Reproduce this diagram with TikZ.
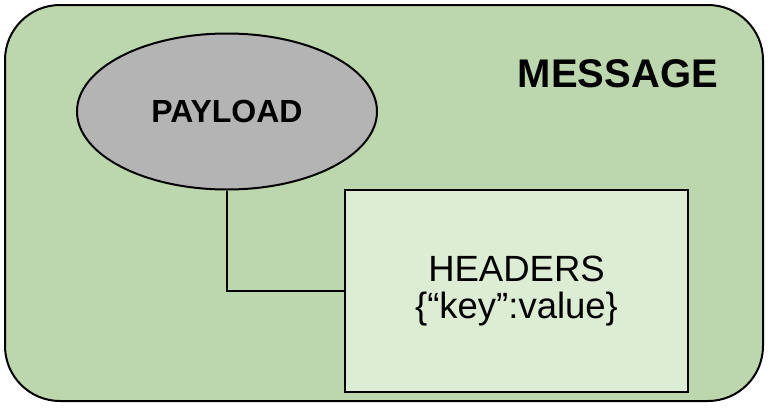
\documentclass[tikz,border=0pt]{standalone}
\usepackage{fontspec}
\setmainfont{Liberation Sans}
\usetikzlibrary{shapes.geometric}
\definecolor{msggreen}{HTML}{BCD6AD}
\definecolor{hdrgreen}{HTML}{DCEDD4}
\definecolor{plgray}{HTML}{B4B4B4}
\tikzset{
  msgbox/.style={shape=rectangle,draw=black,fill=msggreen,rounded corners=55pt,line width=2pt,minimum width=758pt,minimum height=396pt},
  plnode/.style={shape=ellipse,draw=black,fill=plgray,line width=2pt,inner sep=0pt,minimum width=300pt,minimum height=156pt,font=\fontsize{32}{38}\selectfont\bfseries},
  hdrbox/.style={shape=rectangle,draw=black,fill=hdrgreen,line width=2pt,minimum width=343pt,minimum height=202pt,align=center,font=\fontsize{36.5}{37}\selectfont}
}
\begin{document}
\begin{tikzpicture}[x=1pt,y=-1pt]
                \useasboundingbox (0,0) rectangle (774,410);
                \node[msgbox] (M) at (384,203) {};
                \node[font=\fontsize{40}{48}\selectfont\bfseries] (ML) at (618,74) {MESSAGE};
                \node[plnode] (P) at (227,111.5) {PAYLOAD};
                \node[hdrbox] (H) at (516.5,291) {HEADERS\\\{“key”:value\}};

                \path [line width=2pt] (P.south) edge [to path={|- (\tikztotarget)}] (H.west);
            \end{tikzpicture}
\end{document}
